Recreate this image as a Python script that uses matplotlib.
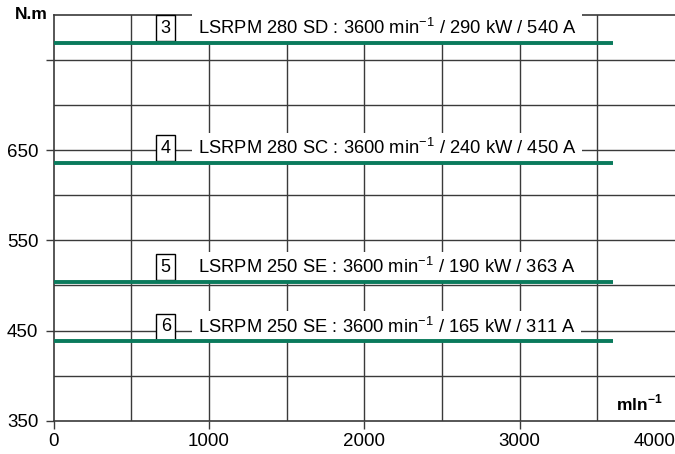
import numpy as np
import matplotlib.pyplot as plt

plt.rcParams['font.family'] = ['Liberation Sans', 'DejaVu Sans']
plt.rcParams['mathtext.fontset'] = 'custom'
plt.rcParams['mathtext.rm'] = 'Liberation Sans'
plt.rcParams['mathtext.bf'] = 'Liberation Sans:bold'

# data
motor_ids = ['3', '4', '5', '6']
models = ['LSRPM 280 SD', 'LSRPM 280 SC', 'LSRPM 250 SE', 'LSRPM 250 SE']
speed_max = 3600
power_kw = [290, 240, 190, 165]
current_a = [540, 450, 363, 311]
torque = [769, 636, 504, 438]

x_ticks = [0, 1000, 2000, 3000, 4000]
y_ticks = [350, 450, 550, 650, 750]
y_labels = ['350', '450', '550', '650', '']

green = '#0a7a5c'
grid_c = '#3a3a3a'

fig = plt.figure(figsize=(6.75, 4.54), dpi=100)
ax = fig.add_axes([0.0793, 0.0733, 0.9207, 0.894])
ax.set_xlim(0, 4000)
ax.set_ylim(350, 800)

# grid
for gx in np.arange(500, 4000, 500):
    ax.axvline(gx, color=grid_c, lw=1, zorder=1)
for gy in np.arange(400, 800, 50):
    ax.axhline(gy, color=grid_c, lw=1, zorder=1)

for sp in ['left', 'bottom', 'top']:
    ax.spines[sp].set_color(grid_c)
    ax.spines[sp].set_linewidth(1.2)
ax.spines['right'].set_visible(False)

ax.set_xticks(x_ticks)
ax.set_xticklabels([str(v) for v in x_ticks])
ax.set_yticks(y_ticks)
ax.set_yticklabels(y_labels)
ax.tick_params(axis='both', labelsize=13.5, color=grid_c, length=6, width=1)
ax.tick_params(axis='y', pad=5)
ax.tick_params(axis='x', pad=3)
ax.get_xticklabels()[-1].set_ha('right')
ax.get_xticklines()[-2].set_visible(False)

for i in range(len(torque)):
    ax.plot([0, speed_max], [torque[i], torque[i]], color=green, lw=2.8,
            solid_capstyle='butt', zorder=6)
    ty = torque[i] + 16
    ax.text(722, ty, motor_ids[i], fontsize=13, ha='center', va='center', zorder=5,
            bbox=dict(boxstyle='square,pad=0.25', fc='white', ec='black', lw=1))
    label = '%s : %d min$^{\\mathregular{-1}}$ / %d kW / %d A' % (
        models[i], speed_max, power_kw[i], current_a[i])
    ax.text(928, ty, label, fontsize=13.2, ha='left', va='center', zorder=4,
            bbox=dict(boxstyle='square,pad=0.3', fc='white', ec='none'))

fig.text(0.071, 0.967, 'N.m', fontsize=12.5, fontweight='bold', ha='right', va='center')
fig.text(0.981, 0.112, 'mln$^{\\mathbf{-1}}$', fontsize=12.5, fontweight='bold',
         ha='right', va='center')

fig.savefig('out.png', dpi=100)
